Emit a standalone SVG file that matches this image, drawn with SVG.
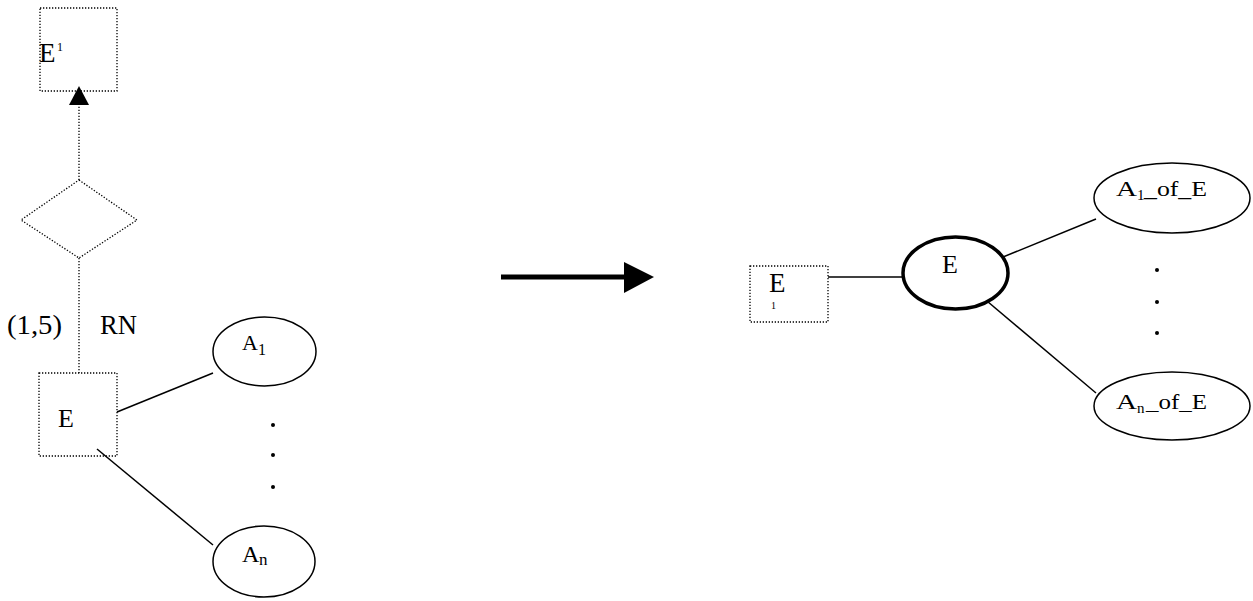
<svg xmlns="http://www.w3.org/2000/svg" width="1253" height="601" viewBox="0 0 1253 601">
  <style>
    text { font-family: "Liberation Serif", "Times New Roman", "DejaVu Serif", serif; fill: #000; }
    .dotted { fill: none; stroke: #000; stroke-width: 1.3; stroke-dasharray: 1.3 1.7; }
    .solid { fill: none; stroke: #000; stroke-width: 1.5; }
    .attr { fill: #fff; stroke: #000; stroke-width: 1.5; }
    .bold { fill: #fff; stroke: #000; stroke-width: 3.5; }
  </style>
  <rect width="1253" height="601" fill="#fff"/>

  <!-- connectors -->
  <g id="connectors">
    <line class="dotted" x1="79" y1="180" x2="79" y2="105"/>
    <path d="M69,105 L79,86 L89,105 Z" fill="#000"/>
    <line class="dotted" x1="79" y1="258" x2="79" y2="373"/>
    <line class="solid" x1="117" y1="412" x2="213" y2="373"/>
    <line class="solid" x1="97" y1="449" x2="213" y2="545"/>
    <line x1="501" y1="277" x2="626" y2="277" stroke="#000" stroke-width="5"/>
    <path d="M624,262 L654,277 L624,293 Z" fill="#000"/>
    <line class="solid" x1="828" y1="277" x2="903" y2="277"/>
    <line class="solid" x1="1003" y1="257" x2="1096" y2="219"/>
    <line class="solid" x1="981" y1="296" x2="1096" y2="393"/>
  </g>

  <!-- left schema -->
  <g id="entity-e1">
    <rect class="dotted" x="40" y="8" width="77" height="83"/>
    <text x="39" y="62" font-size="27">E</text>
    <text x="57" y="51" font-size="12">1</text>
  </g>
  <g id="relationship">
    <polygon class="dotted" points="79,180 137,220 79,258 21,220"/>
  </g>
  <g id="labels">
    <text x="7" y="334" font-size="27" textLength="55" lengthAdjust="spacingAndGlyphs">(1,5)</text>
    <text x="100" y="334" font-size="27" textLength="37" lengthAdjust="spacingAndGlyphs">RN</text>
  </g>
  <g id="entity-e">
    <rect class="dotted" x="39" y="373" width="78" height="83"/>
    <text x="58" y="427" font-size="26">E</text>
  </g>
  <g id="attr-a1">
    <ellipse class="attr" cx="264.5" cy="351.5" rx="51.5" ry="34.5"/>
    <text x="242" y="350" font-size="22">A</text>
    <text x="258" y="355" font-size="16">1</text>
  </g>
  <g id="dots-left">
    <circle cx="273" cy="425" r="2"/>
    <circle cx="273" cy="455" r="2"/>
    <circle cx="273" cy="487" r="2"/>
  </g>
  <g id="attr-an">
    <ellipse class="attr" cx="264" cy="561.5" rx="51" ry="35.5"/>
    <text x="242" y="562" font-size="24">A</text>
    <text x="259" y="565" font-size="17">n</text>
  </g>

  <!-- right schema -->
  <g id="entity-e1-right">
    <rect class="dotted" x="750" y="266" width="78" height="56"/>
    <text x="769" y="292" font-size="27">E</text>
    <text x="771" y="309" font-size="10">1</text>
  </g>
  <g id="entity-e-weak">
    <ellipse class="bold" cx="955.5" cy="273" rx="52.5" ry="36"/>
    <text x="942" y="273" font-size="26">E</text>
  </g>
  <g id="attr-a1-of-e">
    <ellipse class="attr" cx="1172" cy="198" rx="78" ry="35"/>
    <text x="1116" y="196" font-size="21" textLength="21" lengthAdjust="spacingAndGlyphs">A</text>
    <text x="1137" y="200" font-size="15">1</text>
    <text x="1144" y="196" font-size="21" textLength="63" lengthAdjust="spacingAndGlyphs">_of_E</text>
  </g>
  <g id="dots-right">
    <circle cx="1157" cy="270" r="2"/>
    <circle cx="1157" cy="302" r="2"/>
    <circle cx="1157" cy="333" r="2"/>
  </g>
  <g id="attr-an-of-e">
    <ellipse class="attr" cx="1172" cy="406" rx="78" ry="34"/>
    <text x="1116" y="409" font-size="22" textLength="21" lengthAdjust="spacingAndGlyphs">A</text>
    <text x="1137" y="413" font-size="15">n</text>
    <text x="1146" y="409" font-size="22" textLength="61" lengthAdjust="spacingAndGlyphs">_of_E</text>
  </g>
</svg>
